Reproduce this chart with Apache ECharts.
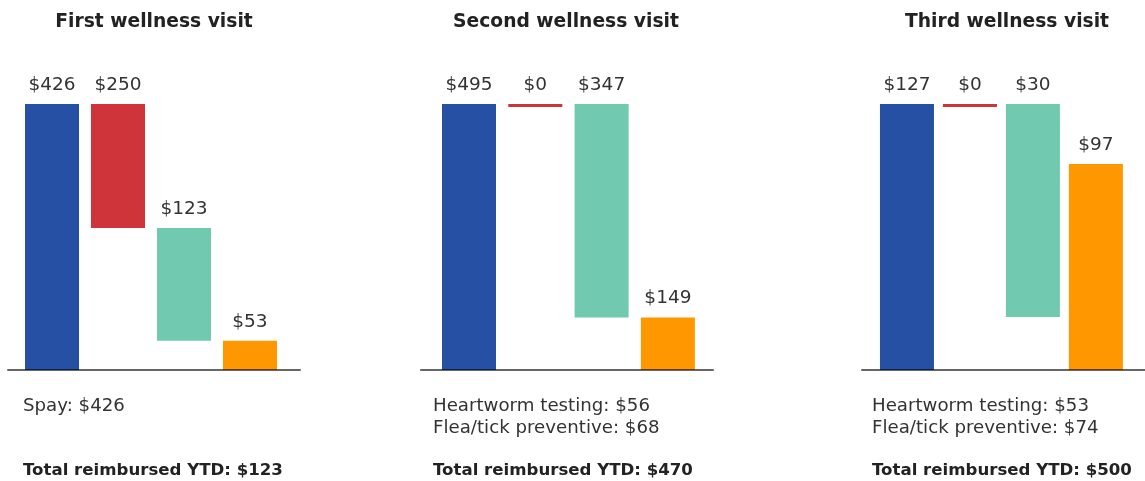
<!DOCTYPE html>
<html>
<head>
<meta charset="utf-8">
<script src="https://cdn.jsdelivr.net/npm/echarts@6/dist/echarts.min.js"></script>
<style>
  html, body { margin: 0; padding: 0; background: #fff; }
  #chart { width: 1145px; height: 481px; }
</style>
</head>
<body>
<div id="chart"></div>
<script>
/* 数据 */
const visits = ['First wellness visit', 'Second wellness visit', 'Third wellness visit'];
const steps = ['Vet bill', 'Deductible', 'Reimbursed', 'You pay'];

const amounts1 = [426, 250, 123, 53];
const amounts2 = [495, 0, 347, 149];
const amounts3 = [127, 0, 30, 97];

/* bar extents as drawn (the picture is not to scale, 0-100 units) */
const low1 = [0, 53.4, 11, 0];
const high1 = [100, 100, 53.4, 11];
const low2 = [0, 100, 19.7, 0];
const high2 = [100, 100, 100, 19.7];
const low3 = [0, 100, 19.9, 0];
const high3 = [100, 100, 100, 77.4];

const notes1 = ['Spay: $426'];
const notes2 = ['Heartworm testing: $56', 'Flea/tick preventive: $68'];
const notes3 = ['Heartworm testing: $53', 'Flea/tick preventive: $74'];
const totals = ['Total reimbursed YTD: $123', 'Total reimbursed YTD: $470', 'Total reimbursed YTD: $500'];

const amounts = [amounts1, amounts2, amounts3];
const lows = [low1, low2, low3];
const highs = [high1, high2, high3];
const notes = [notes1, notes2, notes3];

const colors = ['#2650a4', '#cf343b', '#71c9b0', '#ff9700'];
const FONT = '"DejaVu Sans"';

/* 面板布局 */
const panelLeft = [8, 421, 862];
const panelWidth = [292, 292, 283];
const xMin = [-0.667, -0.724, -0.714];
const xMax = [3.758, 3.68, 3.78];
const titleX = [154, 566, 1007];
const noteX = [23, 433, 872];

const chart = echarts.init(document.getElementById('chart'));

function renderBar(params, api) {
  const x = api.value(0);
  const top = api.coord([x, api.value(2)]);
  const bottom = api.coord([x, api.value(1)]);
  const h = Math.max(bottom[1] - top[1], 3);
  const idx = params.dataIndex;
  return {
    type: 'group',
    children: [
      {
        type: 'rect',
        shape: { x: top[0] - 27, y: top[1], width: 54, height: h },
        style: { fill: colors[idx] }
      },
      {
        type: 'text',
        x: top[0],
        y: top[1] - 19,
        style: {
          text: '$' + api.value(3),
          fill: '#333',
          font: '18.5px ' + FONT,
          align: 'center',
          verticalAlign: 'middle'
        }
      }
    ]
  };
}

const grids = [], xAxes = [], yAxes = [], series = [], graphics = [];
visits.forEach((v, p) => {
  grids.push({ left: panelLeft[p], width: panelWidth[p], top: 104, height: 266 });
  xAxes.push({
    type: 'value', gridIndex: p, min: xMin[p], max: xMax[p], z: 5,
    axisLine: { show: true, lineStyle: { color: 'rgba(0,0,0,0.6)', width: 2 } },
    axisTick: { show: false }, axisLabel: { show: false }, splitLine: { show: false }
  });
  yAxes.push({ type: 'value', gridIndex: p, min: 0, max: 100, show: false });
  series.push({
    type: 'custom',
    name: v,
    xAxisIndex: p,
    yAxisIndex: p,
    renderItem: renderBar,
    encode: { x: 0, y: [1, 2] },
    data: steps.map((s, i) => [i, lows[p][i], highs[p][i], amounts[p][i]])
  });
  /* 标题 */
  graphics.push({
    type: 'text', x: titleX[p], y: 22,
    style: { text: v, font: 'bold 18.7px ' + FONT, fill: '#222', align: 'center', verticalAlign: 'middle' }
  });
  notes[p].forEach((n, k) => {
    graphics.push({
      type: 'text', x: noteX[p], y: 406 + k * 22,
      style: { text: n, font: '18.2px ' + FONT, fill: '#333', verticalAlign: 'middle' }
    });
  });
  graphics.push({
    type: 'text', x: noteX[p], y: 471,
    style: { text: totals[p], font: 'bold 16.6px ' + FONT, fill: '#222', verticalAlign: 'middle' }
  });
});

chart.setOption({
  animation: false,
  grid: grids,
  xAxis: xAxes,
  yAxis: yAxes,
  series: series,
  graphic: graphics
});
</script>
</body>
</html>
